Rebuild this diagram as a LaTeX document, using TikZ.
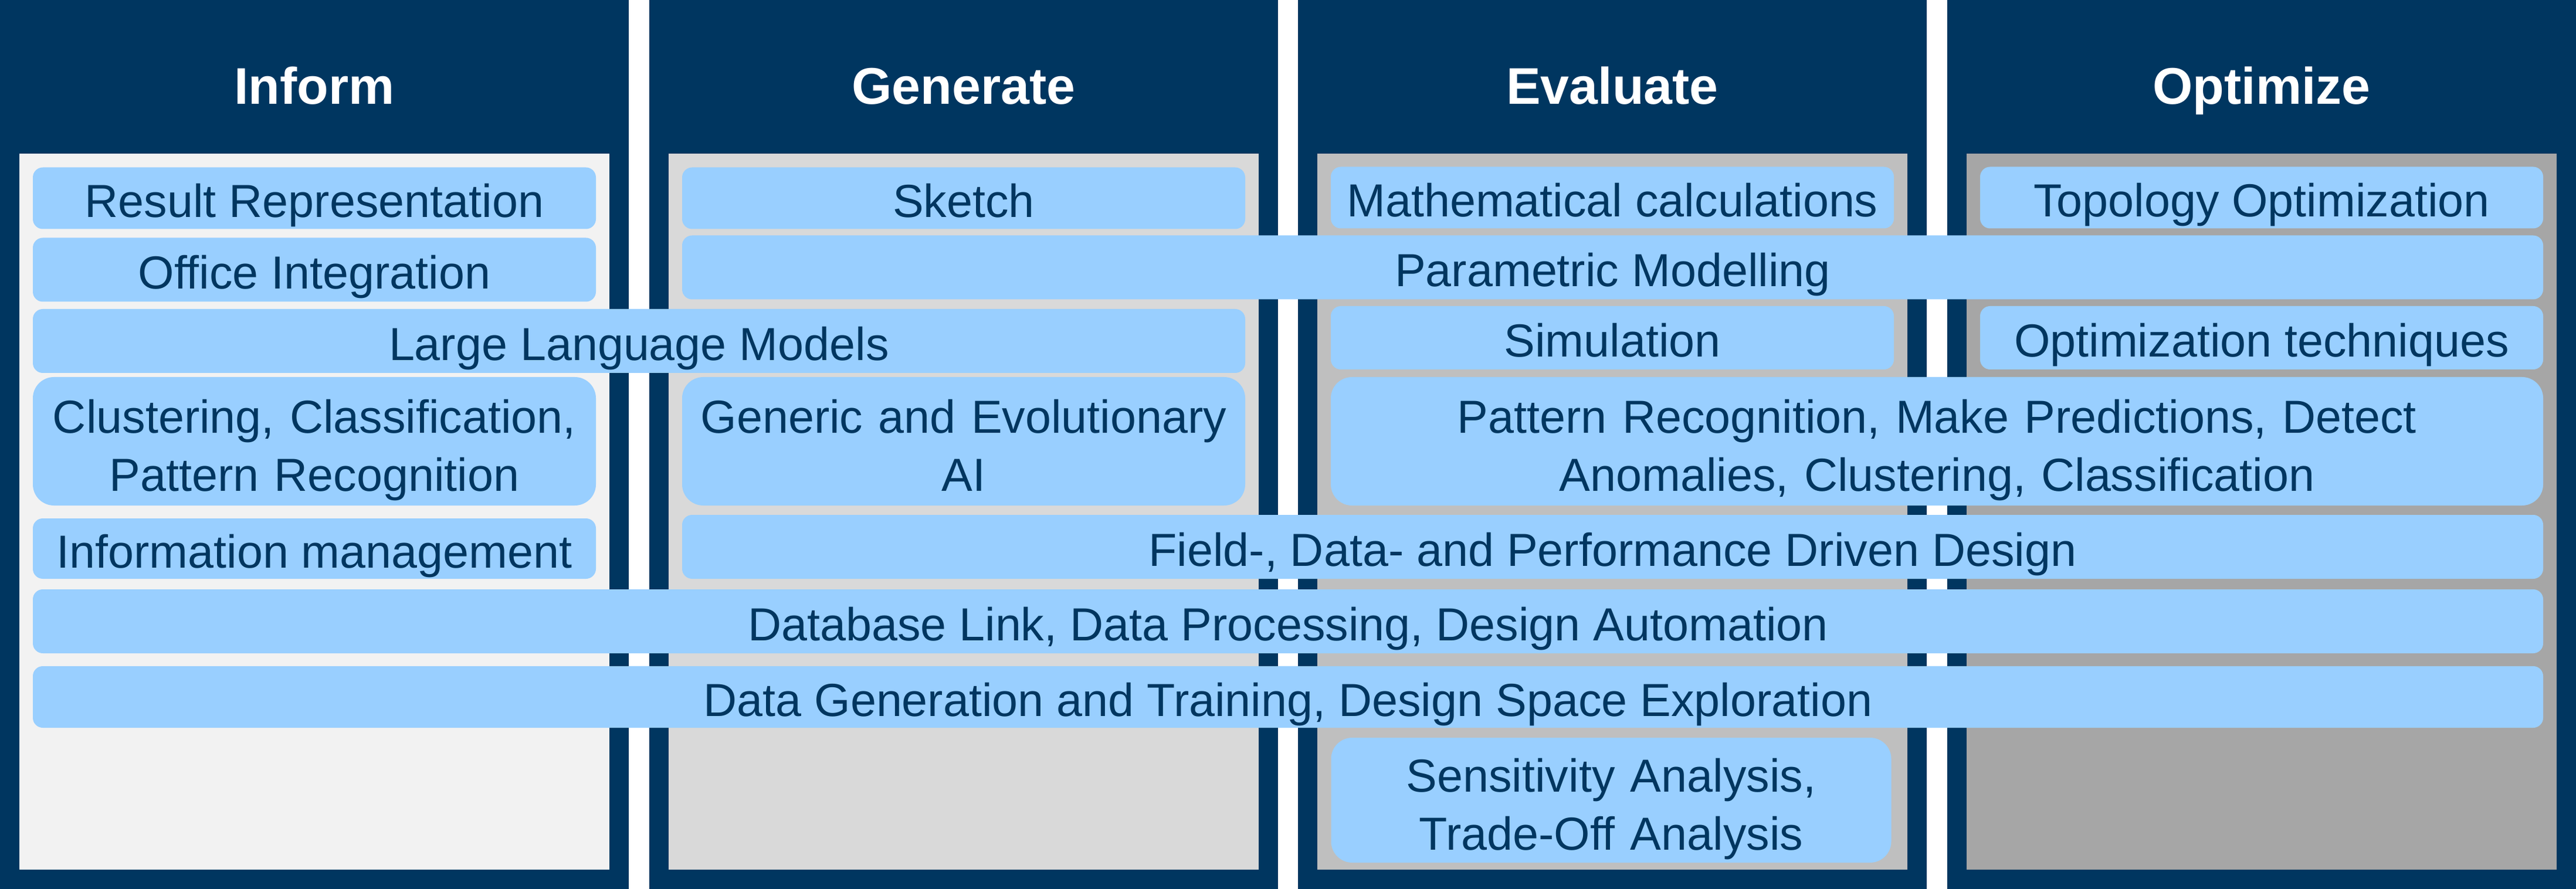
\documentclass[tikz,border=0pt]{standalone}
\usepackage{fontspec}
\setmainfont{Liberation Sans}
\usepackage{xcolor}
\usepackage{tikz}

\definecolor{darkblue}{RGB}{0,54,96}
\definecolor{cellblue}{RGB}{153,207,255}
\definecolor{panelinform}{HTML}{F2F2F2}
\definecolor{panelgenerate}{HTML}{D9D9D9}
\definecolor{panelevaluate}{HTML}{BFBFBF}
\definecolor{paneloptimize}{HTML}{A6A6A6}

\begin{document}
\begin{tikzpicture}[
    cell/.style={fill=cellblue, text=darkblue, rounded corners=0.17cm, inner sep=0pt,
        font=\fontsize{22.5}{28.2}\selectfont, align=center, text height=0.66cm, text depth=0cm},
    tallcell/.style={cell, rounded corners=0.36cm, text height=0.6cm, text depth=0.88cm},
    span1/.style={minimum width=9.6cm},
    span2/.style={minimum width=20.67cm},
    span3/.style={minimum width=31.73cm},
    span4/.style={minimum width=42.8cm},
    head/.style={text=white, anchor=base, font=\fontsize{25}{30}\selectfont\bfseries}
]
    \useasboundingbox (0,0) rectangle (43.92,-15.16);

    % Columns
    \foreach \x/\shade in {0/panelinform, 11.067/panelgenerate, 22.133/panelevaluate, 33.2/paneloptimize} {
        \fill[darkblue] (\x,0) rectangle ++(10.72,-15.16);
        \fill[\shade] (\x+0.33,-2.62) rectangle ++(10.06,-12.21);
    }

    % Headers
    \node[head] (inform) at (5.36,-1.78) {Inform};
    \node[head] (generate) at (16.43,-1.78) {Generate};
    \node[head] (evaluate) at (27.49,-1.78) {Evaluate};
    \node[head] (optimize) at (38.56,-1.78) {Optimize};

    % Row 1
    \node[cell, span1, minimum height=1.05cm] (result) at (5.36,-3.38) {Result Representation};
    \node[cell, span1, minimum height=1.05cm] (sketch) at (16.43,-3.38) {Sketch};
    \node[cell, span1, minimum height=1.05cm] (mathcalc) at (27.49,-3.37) {Mathematical calculations};
    \node[cell, span1, minimum height=1.05cm] (topology) at (38.56,-3.37) {Topology Optimization};

    % Row 2
    \node[cell, span1, minimum height=1.09cm] (office) at (5.36,-4.6) {Office Integration};
    \node[cell, span3, minimum height=1.09cm] (parametric) at (27.495,-4.56) {Parametric Modelling};

    % Row 3
    \node[cell, span2, minimum height=1.09cm] (llm) at (10.895,-5.815) {Large Language Models};
    \node[cell, span1, minimum height=1.08cm] (simulation) at (27.49,-5.76) {Simulation};
    \node[cell, span1, minimum height=1.08cm] (opttech) at (38.56,-5.76) {Optimization techniques};

    % Row 4
    \node[tallcell, span1, text width=9.6cm, minimum height=2.19cm] (clustering) at (5.36,-7.525)
        {Clustering, Classification,\\ Pattern Recognition};
    \node[tallcell, span1, text width=9.6cm, minimum height=2.19cm] (generic) at (16.43,-7.525)
        {Generic and Evolutionary\\ AI};
    \node[tallcell, span2, text width=20.67cm, minimum height=2.19cm] (patternrec) at (33.025,-7.525)
        {Pattern Recognition, Make Predictions, Detect\\ Anomalies, Clustering, Classification};

    % Row 5
    \node[cell, span1, minimum height=1.03cm] (infomgmt) at (5.36,-9.355) {Information management};
    \node[cell, span3, minimum height=1.09cm] (fielddata) at (27.495,-9.325) {Field-, Data- and Performance Driven Design};

    % Rows 6 and 7
    \node[cell, span4, minimum height=1.09cm] (database) at (21.96,-10.595) {Database Link, Data Processing, Design Automation};
    \node[cell, span4, minimum height=1.05cm] (datagen) at (21.96,-11.885) {Data Generation and Training, Design Space Exploration};

    % Row 8
    \node[tallcell, minimum width=9.55cm, text width=9.55cm, minimum height=2.13cm] (sensitivity) at (27.47,-13.645)
        {Sensitivity Analysis,\\ Trade-Off Analysis};
\end{tikzpicture}
\end{document}
